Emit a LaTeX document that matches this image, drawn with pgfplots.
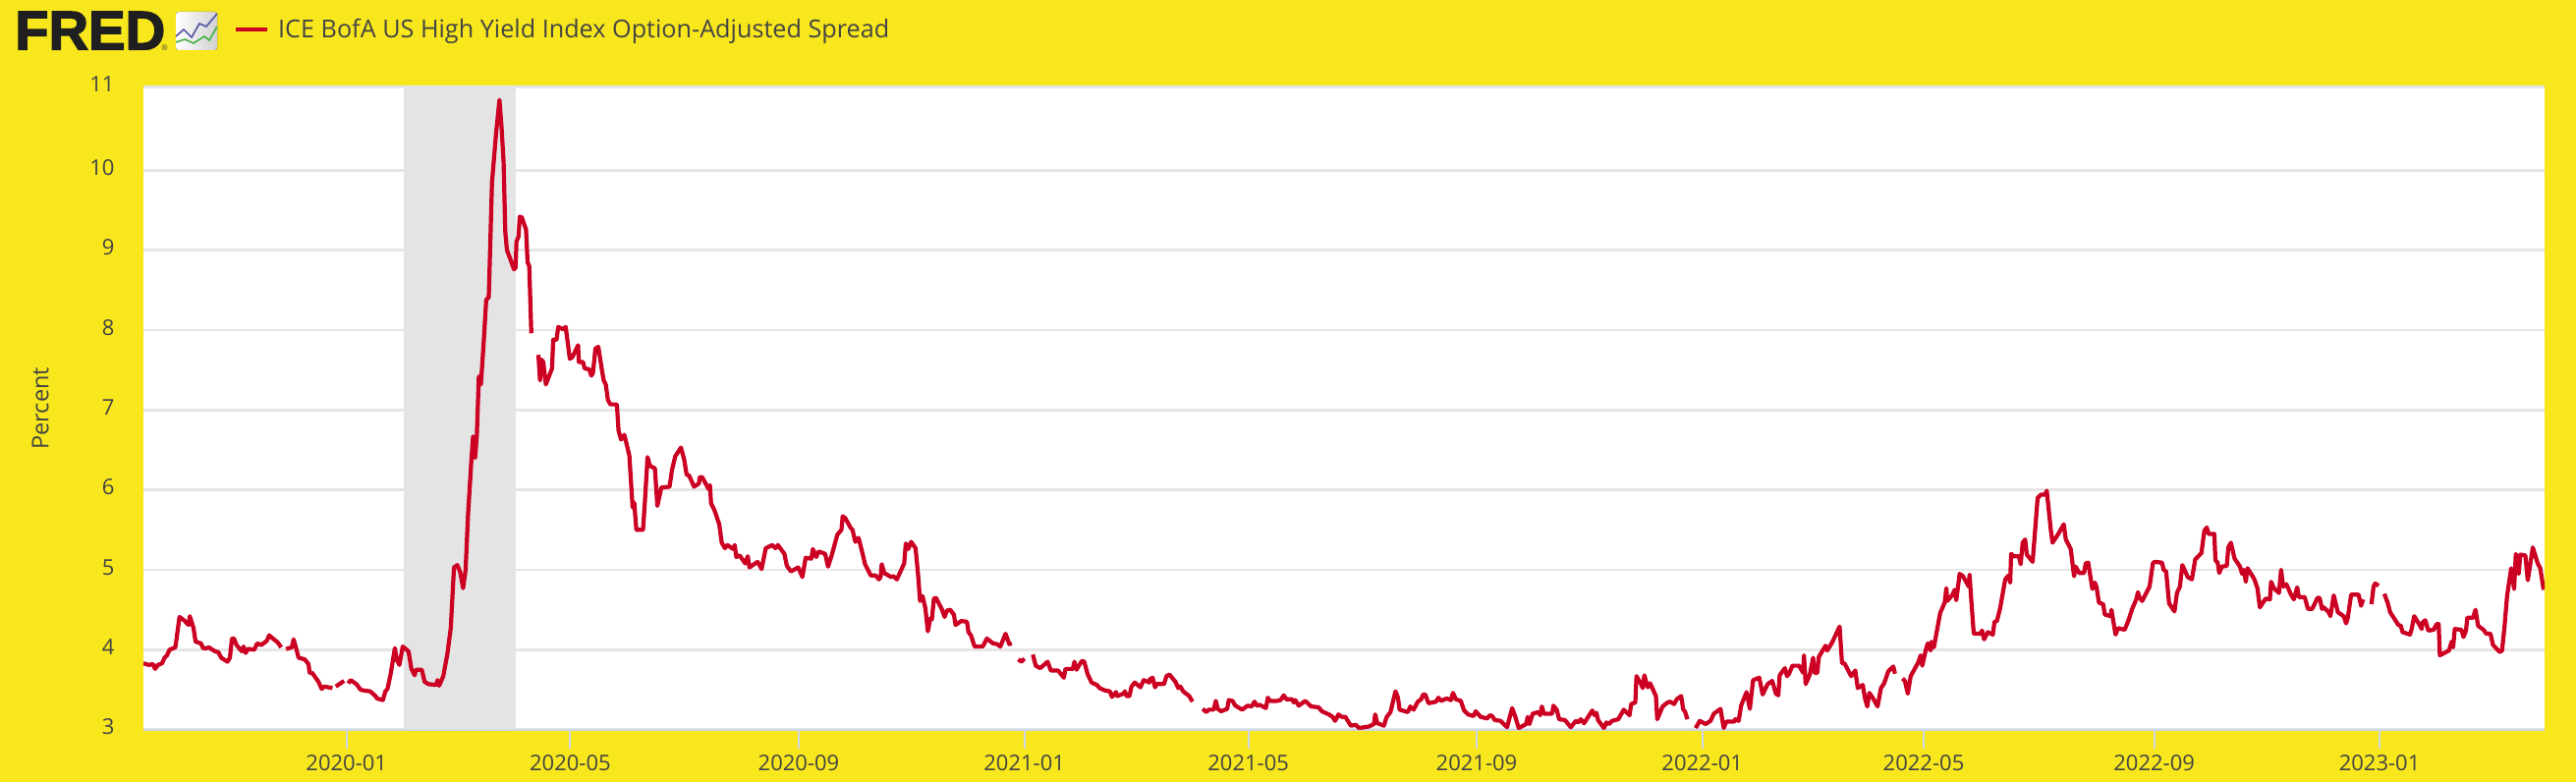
\documentclass[border=0pt]{standalone}
\usepackage{fontspec}
\usepackage{graphicx}
\usepackage{pgfplots}
\usepackage{pgfplotstable}
\pgfplotsset{compat=1.18}
\setmainfont{Open Sans}
\newfontfamily\fredfont[BoldFeatures={FakeBold=2.5}]{Liberation Sans}
\definecolor{fredyellow}{HTML}{F8E71C}
\definecolor{fredred}{HTML}{CC0022}
\definecolor{fredgrid}{HTML}{E6E6E6}
\definecolor{fredband}{HTML}{E4E4E4}
\definecolor{fredtick}{HTML}{CCD6EB}
\definecolor{fredtext}{HTML}{444444}

% x is the horizontal position in the picture, one unit is about half a day
\pgfplotstableread[row sep=\\]{
x y\\
146 3.83\\151.5 3.81\\155.7 3.82\\157.8 3.76\\160.8 3.81\\165 3.83\\167.5 3.90\\170 3.93\\172.6 4.00\\178.5 4.03\\
182.7 4.41\\187.3 4.37\\191.9 4.31\\193.2 4.42\\197 4.27\\199.1 4.10\\204.5 4.08\\206.7 4.02\\210.4 4.02\\212.5 4.03\\
218.9 3.98\\222.2 3.97\\225.2 3.90\\231.5 3.85\\234 3.90\\236.1 4.14\\238.2 4.14\\240.7 4.06\\246.2 3.98\\247.9 4.04\\
250 3.96\\252.5 4.01\\258.8 4.00\\261.8 4.08\\266 4.06\\271.5 4.11\\274 4.18\\277.8 4.14\\282.8 4.09\\286.2 4.03\\
288 nan\\
291.2 4.01\\297.1 4.03\\298.8 4.13\\301.4 4.02\\303.9 3.90\\310.2 3.88\\314 3.82\\315.2 3.71\\317.8 3.71\\324.1 3.60\\
327.4 3.51\\330 3.54\\338.4 3.52\\
340 nan\\
341.8 3.54\\350.2 3.61\\
352 nan\\
354.4 3.58\\356.9 3.62\\362.8 3.57\\367 3.50\\370.4 3.49\\376.7 3.48\\382.2 3.42\\383.8 3.39\\389.7 3.37\\392.3 3.48\\
394.4 3.51\\397.7 3.70\\401.9 4.02\\404 3.87\\406.6 3.81\\409.9 4.04\\415.8 3.98\\418.8 3.76\\422.1 3.68\\423.4 3.75\\
429.3 3.75\\432.2 3.60\\436 3.57\\444 3.56\\445.3 3.62\\447 3.55\\451.2 3.67\\455.4 3.95\\458.8 4.27\\462.1 5.03\\
465.5 5.06\\468.4 4.97\\471.4 4.77\\473.9 5.00\\476.4 5.69\\479.8 6.37\\481.5 6.67\\483.6 6.40\\485.3 6.67\\487.4 7.42\\
489.5 7.32\\492.4 7.86\\494.9 8.38\\497.5 8.41\\500.8 9.85\\505 10.47\\508.4 10.88\\510.5 10.54\\512.6 10.10\\514.3 9.23\\
516 9.00\\519.4 8.89\\523.1 8.76\\524.8 8.78\\525.7 9.11\\527.8 9.17\\529 9.42\\531.1 9.41\\535.4 9.26\\537 8.85\\
538.7 8.80\\540.8 7.96\\
544 nan\\
548 7.69\\549.7 7.37\\551.3 7.63\\553 7.60\\555.6 7.32\\561.9 7.52\\563.1 7.88\\566.5 7.88\\568.2 8.04\\573.2 8.01\\
575.8 8.04\\580 7.64\\582.5 7.66\\588.4 7.81\\589.2 7.60\\593.4 7.60\\595.1 7.52\\599.7 7.51\\601.9 7.43\\603.5 7.46\\
606.1 7.77\\609 7.79\\612.8 7.49\\614.5 7.37\\616.6 7.32\\618.7 7.13\\621.2 7.07\\627.9 7.07\\629.6 6.74\\632.2 6.63\\
635.5 6.69\\640.6 6.43\\643.9 5.78\\645.6 5.84\\647.7 5.50\\654.5 5.50\\656.6 5.89\\659.1 6.41\\661.6 6.30\\666.6 6.27\\
669.1 5.80\\670.7 5.89\\673.2 6.03\\681.5 6.04\\684 6.25\\687.3 6.42\\693.1 6.53\\696.4 6.38\\698.9 6.19\\701.4 6.18\\
706.4 6.04\\711.4 6.08\\712.2 6.16\\714.7 6.16\\721.3 6.01\\722.6 6.06\\723.8 5.83\\727.1 5.75\\732.1 5.57\\734.6 5.34\\
737.9 5.27\\740.4 5.31\\746.2 5.26\\747.8 5.31\\749.5 5.16\\752.8 5.18\\758.6 5.08\\761.1 5.17\\762.8 5.03\\771.1 5.10\\
775.2 5.01\\779.4 5.27\\786 5.31\\789.3 5.27\\791.8 5.31\\798.4 5.20\\800.9 5.05\\805.1 4.98\\812.5 5.03\\816.7 4.91\\
820 5.15\\825.8 5.14\\827.4 5.26\\830.8 5.16\\833.3 5.23\\839.9 5.20\\842.8 5.04\\846.5 5.18\\852.3 5.44\\856.5 5.50\\
857.7 5.67\\860.2 5.65\\865.6 5.53\\867.7 5.50\\870.6 5.35\\873.9 5.40\\878 5.20\\880.5 5.07\\886.3 4.93\\891.3 4.93\\
894.6 4.88\\896.3 4.91\\897.5 5.07\\900 4.96\\907 4.91\\909.5 4.92\\912.9 4.88\\920.3 5.08\\922 5.33\\924.5 5.26\\
927.4 5.35\\931.9 5.27\\934.4 4.95\\936.5 4.61\\939 4.67\\941.9 4.52\\944.4 4.23\\946.9 4.39\\948.5 4.38\\950.6 4.64\\
952.7 4.65\\958.9 4.50\\961.4 4.41\\963.9 4.49\\967.2 4.50\\970.9 4.44\\972.6 4.31\\978.4 4.36\\984.2 4.35\\985.8 4.22\\
988.3 4.18\\992 4.04\\1000.3 4.04\\1004.5 4.14\\1010.7 4.08\\1014.8 4.07\\1018.2 4.04\\1023.5 4.20\\1027.3 4.07\\1029.8 4.08\\
1033 nan\\
1036.4 3.88\\1039.7 3.85\\1042.6 3.89\\
1047 nan\\
1051.3 3.94\\1054.2 3.80\\1058.8 3.77\\1066.3 3.85\\1069.6 3.74\\1077 3.74\\1082.8 3.65\\1084.5 3.76\\1092 3.76\\1093.6 3.85\\
1095.7 3.75\\1101.1 3.86\\1103.6 3.85\\1106.9 3.70\\1111 3.59\\1116.4 3.56\\1119.3 3.52\\1124.7 3.49\\1129.7 3.48\\1131.8 3.41\\
1135.9 3.47\\1137.1 3.42\\1143.4 3.45\\1145 3.48\\1146.7 3.42\\1149.6 3.42\\1151.7 3.54\\1155 3.59\\1160.8 3.53\\1164.1 3.62\\
1169.9 3.59\\1170.3 3.63\\1173.2 3.65\\1175.7 3.53\\1177.4 3.57\\1184.8 3.57\\1187.3 3.67\\1190.2 3.69\\1196.4 3.60\\1199.3 3.52\\
1201.4 3.54\\1204.3 3.48\\1210.5 3.42\\1213.8 3.35\\
1219 nan\\
1224.2 3.26\\1227.9 3.22\\1230.4 3.25\\1235.4 3.25\\1237.5 3.36\\1239.5 3.26\\1242.9 3.23\\1249.1 3.26\\1250.7 3.37\\1254.5 3.36\\
1257.4 3.30\\1264.4 3.25\\1269.8 3.30\\1274 3.29\\1276.9 3.35\\1279.4 3.30\\1282.3 3.31\\1288.5 3.27\\1290.5 3.40\\1292.6 3.36\\
1300 3.36\\1303.4 3.37\\1306.7 3.43\\1309.3 3.38\\1315.2 3.38\\1316.8 3.34\\1318.5 3.37\\1321.9 3.30\\1328.6 3.36\\1334.5 3.29\\
1342.1 3.28\\1345.5 3.23\\1352.6 3.19\\1356.4 3.16\\1358.9 3.11\\1362.3 3.19\\1365.7 3.16\\1369.4 3.16\\1374.9 3.05\\1380 3.06\\
1383.3 3.02\\1393.4 3.04\\1398.5 3.07\\1399.7 3.19\\1401.9 3.08\\1408.6 3.05\\1411.5 3.16\\1415.3 3.22\\1420.4 3.48\\1422.9 3.40\\
1424.6 3.25\\1433 3.22\\1435.5 3.29\\1438.9 3.25\\1443.1 3.35\\1446.5 3.38\\1448.6 3.44\\1450.7 3.44\\1454 3.33\\1461.6 3.35\\
1464.1 3.40\\1466.7 3.36\\1472.6 3.39\\1476.8 3.37\\1478.9 3.46\\1481.8 3.38\\1486.9 3.36\\1490.2 3.24\\1494.4 3.19\\1499.9 3.17\\
1502 3.23\\1507.1 3.16\\1513.8 3.14\\1516.3 3.18\\1518.9 3.17\\1521.4 3.12\\1527.3 3.11\\1534 3.03\\1539.1 3.27\\1542.4 3.16\\
1545.8 3.02\\1553.4 3.07\\1555 3.16\\1556.7 3.07\\1560.1 3.20\\1566 3.22\\1567.7 3.18\\1569.4 3.29\\1571.5 3.20\\1579.9 3.20\\
1581.1 3.30\\1584.5 3.25\\1587 3.13\\1592.9 3.12\\1598.8 3.03\\1603.9 3.11\\1606.4 3.09\\1608.9 3.13\\1612.3 3.08\\1620.7 3.24\\
1623.2 3.18\\1624.9 3.21\\1626.6 3.12\\1632.5 3.02\\1635 3.09\\1637.5 3.07\\1640.9 3.11\\1647.2 3.13\\1652.7 3.25\\1658.6 3.18\\
1660.3 3.32\\1664.5 3.34\\1665.7 3.67\\1670.4 3.57\\1672 3.52\\1673.7 3.68\\1677.1 3.53\\1679.6 3.58\\1685.5 3.42\\1686.8 3.13\\
1692.3 3.29\\1697.3 3.34\\1699.8 3.35\\1704 3.32\\1706.6 3.38\\1711.2 3.42\\1713.3 3.25\\1715 3.23\\1717.5 3.13\\
1721 nan\\
1725.9 3.02\\1730.1 3.11\\1736 3.07\\1741.1 3.11\\1744.4 3.20\\1751.2 3.26\\1754.5 3.02\\1757.1 3.10\\1765.1 3.10\\1766.3 3.13\\
1769.7 3.11\\1772.2 3.30\\1777.7 3.47\\1781.1 3.26\\1784.4 3.62\\1790.7 3.65\\1794.1 3.44\\1799.2 3.57\\1803.8 3.61\\1807.6 3.45\\
1810.1 3.43\\1811.4 3.68\\1816.8 3.77\\1818.9 3.67\\1821 3.70\\1824.4 3.80\\1831.1 3.80\\1835.4 3.71\\1836.2 3.93\\1837.9 3.57\\
1842.1 3.69\\1845.5 3.90\\1847.1 3.71\\1849.7 3.71\\1851.3 3.91\\1858.1 4.05\\1859.8 3.99\\1864.8 4.09\\1872.4 4.29\\1874.9 3.83\\
1877.4 3.83\\1884.2 3.67\\1888.4 3.74\\1890.9 3.52\\1896 3.56\\1898.5 3.38\\1900.6 3.29\\1902.7 3.46\\1906.1 3.40\\1911.1 3.29\\
1914.5 3.52\\1917.8 3.58\\1922 3.73\\1927.1 3.79\\1928.8 3.70\\
1932 nan\\
1936.4 3.64\\1938.9 3.61\\1941.8 3.45\\1944.8 3.67\\1952.4 3.84\\1954.9 3.93\\1956.6 3.80\\1960 3.99\\1962.1 4.08\\1965.1 3.99\\
1965.9 4.10\\1968.4 4.03\\1974.8 4.46\\1979.4 4.59\\1981.1 4.77\\1982 4.61\\1987.4 4.69\\1989.5 4.75\\1991.2 4.62\\1994.6 4.95\\
1998 4.92\\2003.9 4.79\\2004.7 4.94\\2006.4 4.63\\2009 4.20\\2015.7 4.20\\2017.4 4.24\\2019.5 4.13\\2023.3 4.22\\2028.4 4.19\\
2030.1 4.35\\2032.6 4.36\\2036 4.53\\2041 4.88\\2044.4 4.93\\2046.1 4.84\\2047 5.20\\2049.5 5.17\\2055 5.17\\2056.7 5.07\\
2058.8 5.34\\2061.3 5.38\\2063 5.19\\2068.9 5.10\\2071.4 5.49\\2074 5.90\\2077.3 5.94\\2081.6 5.94\\2083.3 5.99\\2087.5 5.49\\
2089.2 5.34\\2095.1 5.45\\2100.6 5.57\\2102.7 5.38\\2107.7 5.26\\2111.1 4.92\\2112.8 5.04\\2116.2 4.96\\2121.2 4.96\\2122.9 5.08\\
2125.5 5.09\\2129.7 4.76\\2132.2 4.84\\2133.9 4.79\\2136.4 4.59\\2140.7 4.57\\2142.4 4.44\\2148.3 4.42\\2149.1 4.50\\2153.3 4.19\\
2155.9 4.27\\2162.6 4.25\\2166.8 4.38\\2170.2 4.51\\2174.4 4.63\\2176.1 4.72\\2177.8 4.65\\2180.4 4.61\\2187.9 4.79\\2191.3 5.08\\
2193 5.10\\2200.6 5.09\\2202.3 5.00\\2204.8 4.98\\2207.8 4.58\\2213.3 4.48\\2215.8 4.71\\2218.8 4.79\\2221.3 5.06\\2226.8 4.91\\
2231 4.88\\2234.4 5.13\\2240.7 5.21\\2243.7 5.49\\2246.2 5.53\\2247.9 5.45\\2253.8 5.45\\2255 5.12\\2257.2 5.09\\2258.9 4.96\\
2261.4 5.04\\2266.5 5.05\\2268.1 5.28\\2270.7 5.34\\2274.5 5.14\\2280 5.04\\2282.1 4.95\\2283.8 5.00\\2285.9 4.85\\2287.6 5.02\\
2294.3 4.89\\2297.7 4.77\\2300.2 4.53\\2306.1 4.64\\2310.4 4.63\\2311.6 4.85\\2314.6 4.77\\2319.6 4.71\\2321.8 5.00\\2323.9 4.79\\
2327.2 4.82\\2331.5 4.70\\2334.8 4.63\\2338.2 4.78\\2339.9 4.66\\2345.8 4.66\\2349.2 4.51\\2353.4 4.51\\2358.9 4.65\\2361 4.65\\
2363.5 4.51\\2365.2 4.53\\2370.3 4.47\\2372 4.42\\2375.4 4.68\\2379.6 4.47\\2385.5 4.42\\2388 4.33\\2389.7 4.40\\2393.1 4.69\\
2400.7 4.69\\2403.2 4.55\\2405.3 4.63\\
2409 nan\\
2413.8 4.57\\2415.9 4.79\\2417.6 4.83\\2421 4.80\\
2424 nan\\
2426.9 4.70\\2430.2 4.59\\2432.8 4.47\\2441.2 4.31\\2443.7 4.30\\2445.4 4.22\\2453 4.19\\2454.7 4.26\\2457.3 4.42\\2462.3 4.32\\
2464.9 4.26\\2465.7 4.34\\2468.6 4.37\\2471.6 4.24\\2477.1 4.25\\2480.1 4.32\\2482.2 4.32\\2483.4 3.93\\2492.7 3.99\\2495.3 4.10\\
2496.9 4.03\\2498.6 4.26\\2505.4 4.25\\2507.5 4.16\\2510 4.24\\2511.3 4.40\\2517.2 4.40\\2519.7 4.50\\2522.3 4.30\\2527.8 4.25\\
2530.7 4.20\\2534.9 4.20\\2537.5 4.06\\2544.6 3.97\\2546.7 3.99\\2549.3 4.30\\2551.8 4.67\\2556 5.02\\2559 4.76\\2560.7 5.20\\
2563.6 4.95\\2565.3 5.19\\2570.4 5.18\\2572.9 4.87\\2578 5.28\\2583 5.08\\2585.6 5.02\\2589 4.75\\
}\spread

\begin{document}
\begin{tikzpicture}[x=1pt,y=1pt]
% page background, axis corner sits at picture position (146,742.7)
\fill[fredyellow] (-146,-53.3) rectangle (2476,742.7);
\useasboundingbox (-146,-53.3) rectangle (2476,742.7);
\begin{axis}[
    scale only axis, width=2444pt, height=654pt,
    at={(0pt,0pt)}, anchor=south west,
    xmin=146, xmax=2590, ymin=3, ymax=11.04,
    axis background/.style={fill=white},
    axis lines*=left,
    x axis line style={draw=fredtick, line width=2pt},
    y axis line style={draw=none},
    xtick={352.7,580.4,813,1042.6,1270.6,1503,1732.7,1958,2192.6,2422},
    xticklabels={2020-01,2020-05,2020-09,2021-01,2021-05,2021-09,2022-01,2022-05,2022-09,2023-01},
    ytick={3,4,5,6,7,8,9,10,11.04},
    yticklabels={3,4,5,6,7,8,9,10,\raisebox{-2.5pt}{11}},
    tick align=outside,
    major tick length=19pt,
    x tick style={draw=fredtick, line width=2pt},
    y tick style={draw=none},
    ymajorgrids,
    grid style={draw=fredgrid, line width=2.5pt},
    /pgf/number format/assume math mode=true,
    tick label style={font=\fontsize{22}{26}\selectfont, text=fredtext},
    x tick label style={yshift=-3pt},
    y tick label style={xshift=-7pt, yshift=2.7pt},
    ylabel={Percent},
    every axis y label/.style={at={(axis description cs:0,0.5)}, xshift=-96.5pt, anchor=base, rotate=90,
        font=\fontsize{23.5}{27}\selectfont, text=fredtext},
    unbounded coords=jump,
]
\addplot[draw=none, fill=fredband, forget plot] coordinates {(411,3) (411,11.04) (524.8,11.04) (524.8,3)} \closedcycle;
\addplot[color=fredred, line width=4.2pt, line join=round, mark=none] table[x=x, y=y] {\spread};
\end{axis}
% header: logo and legend, in picture positions (y down)
\begin{scope}[shift={(-146,742.7)}, x=1pt, y=-1pt]
\node[inner sep=0pt, anchor=west, text=black!88] at (15,31.2) {\resizebox{153pt}{38.5pt}{\fredfont\bfseries FRED}};
\node[inner sep=0pt, text=black!80] at (167.5,49) {\fontsize{8}{9}\selectfont\fredfont ®};
\fill[rounded corners=3pt, left color=white, right color=black!18] (179,12) rectangle (221,51);
\draw[color=blue!30!gray, line width=1.7pt] (179,37) -- (187,30) -- (195,38) -- (203,24) -- (210,27) -- (221,14);
\draw[color=green!40!gray, line width=1.7pt] (179,43) -- (188,40) -- (197,44) -- (208,37) -- (213,41) -- (221,27);
\draw[color=fredred, line width=4.2pt] (240,29.7) -- (272,29.7);
\node[inner sep=0pt, anchor=west, text=fredtext] at (283,32) {\fontsize{25.2}{29}\selectfont ICE BofA US High Yield Index Option-Adjusted Spread};
\end{scope}
\end{tikzpicture}
\end{document}
